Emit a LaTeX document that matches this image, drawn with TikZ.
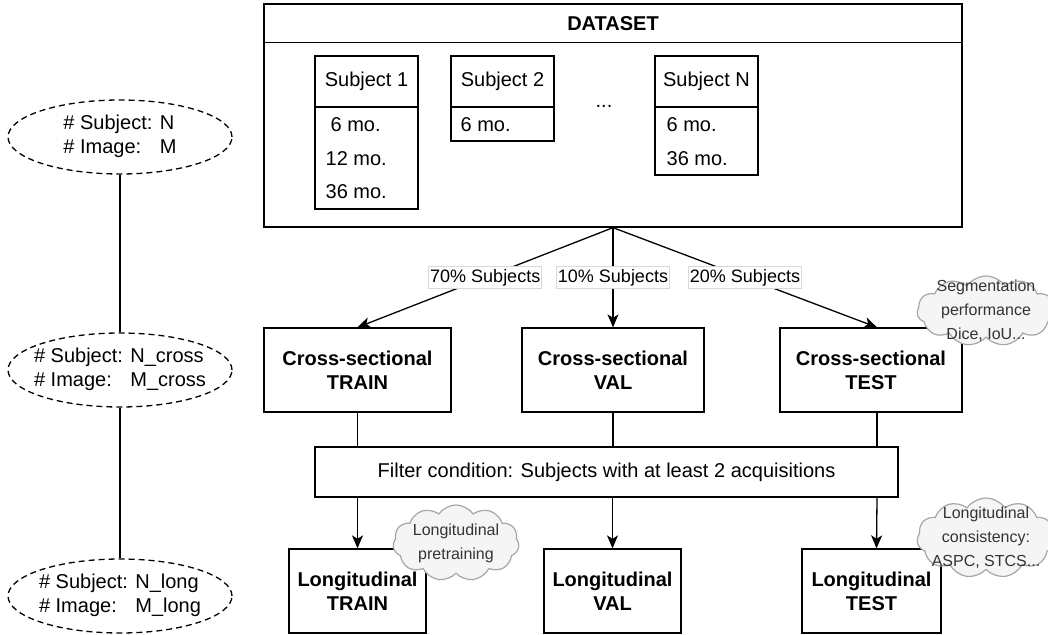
\documentclass[tikz,border=0pt]{standalone}
\usepackage{fontspec}
\setmainfont{Liberation Sans}
\usetikzlibrary{shapes.geometric,shapes.symbols,arrows.meta}
\definecolor{cloudfill}{HTML}{F5F5F5}
\definecolor{cloudline}{HTML}{A6A6A6}
\definecolor{cloudtext}{HTML}{333333}
\definecolor{lblline}{HTML}{D9D9D9}
\newcommand{\ellipsetext}[2]{\makebox[0pt][c]{\begin{tabular}{@{}l@{ }l@{}}\# Subject: & #1\\ \# Image: & #2\end{tabular}}}
\begin{document}
\begin{tikzpicture}[x=1pt,y=-1pt,line width=1.3pt,
  box/.style={draw,rectangle,inner sep=0pt,align=center,font=\fontsize{20}{24}\selectfont},
  boldbox/.style={box,font=\fontsize{20}{24}\selectfont\bfseries},
  txt/.style={inner sep=0pt,font=\fontsize{20}{24}\selectfont},
  lbl/.style={draw=lblline,fill=white,inner xsep=1.5pt,inner ysep=2.5pt,line width=0.8pt,font=\fontsize{18}{21}\selectfont},
  ell/.style={draw,ellipse,dash pattern=on 6pt off 4pt,minimum width=224pt,minimum height=74pt,inner sep=0pt,font=\fontsize{20}{24}\selectfont},
  cloudsty/.style={cloud,cloud puffs=11,cloud puff arc=110,cloud ignores aspect,draw=cloudline,fill=cloudfill,line width=1.2pt,inner sep=0pt},
  cloudtxt/.style={align=center,text=cloudtext,inner sep=0pt,font=\fontsize{16}{24}\selectfont},
  arr/.style={-{Stealth[length=13pt,width=11pt,inset=3.5pt]}}]
\useasboundingbox (0,0) rectangle (1048,634);

% left column
\node[ell] (e1) at (120,137) {\ellipsetext{N}{M}};
\node[ell] (e2) at (120,370) {\ellipsetext{N\_cross}{M\_cross}};
\node[ell] (e3) at (120,596) {\ellipsetext{N\_long}{M\_long}};
\draw (e1.south) -- (e2.north);
\draw (e2.south) -- (e3.north);

% dataset
\node[box,minimum width=698pt,minimum height=223pt] (ds) at (613,115.5) {};
\draw ([yshift=-39pt]ds.north west) -- ([yshift=-39pt]ds.north east);
\node[txt,font=\fontsize{20}{24}\selectfont\bfseries] (dstitle) at (613,24) {DATASET};

\node[box,minimum width=103pt,minimum height=51pt] (s1h) at (366.5,81.5) {Subject 1};
\node[box,minimum width=103pt,minimum height=102pt] (s1b) at (366.5,158) {};
\node[txt,anchor=west] (s1r1) at (330,125) {6 mo.};
\node[txt,anchor=west] (s1r2) at (325,159) {12 mo.};
\node[txt,anchor=west] (s1r3) at (325,192) {36 mo.};

\node[box,minimum width=103pt,minimum height=51pt] (s2h) at (502.5,81.5) {Subject 2};
\node[box,minimum width=103pt,minimum height=34pt] (s2b) at (502.5,124) {};
\node[txt,anchor=west] (s2r1) at (460,125) {6 mo.};

\node[txt] (dots) at (604,106) {...};

\node[box,minimum width=103pt,minimum height=51pt] (snh) at (706.5,81.5) {Subject N};
\node[box,minimum width=103pt,minimum height=68pt] (snb) at (706.5,141) {};
\node[txt,anchor=west] (snr1) at (666,125) {6 mo.};
\node[txt,anchor=west] (snr2) at (666,159) {36 mo.};

% cross-sectional
\node[boldbox,minimum width=187pt,minimum height=84pt] (ctrain) at (357.5,370) {Cross-sectional\\TRAIN};
\node[boldbox,minimum width=182pt,minimum height=84pt] (cval) at (613,370) {Cross-sectional\\VAL};
\node[boldbox,minimum width=182pt,minimum height=84pt] (ctest) at (871,370) {Cross-sectional\\TEST};

\draw[arr] (ds.south) -- node[lbl,pos=0.5] (l70) {70\% Subjects} (ctrain.north);
\draw[arr] (ds.south) -- node[lbl,pos=0.5] (l10) {10\% Subjects} (cval.north);
\draw[arr] (ds.south) -- node[lbl,pos=0.5] (l20) {20\% Subjects} ([xshift=6pt]ctest.north);

% filter
\node[box,minimum width=583pt,minimum height=50pt] (filter) at (606.5,472) {Filter condition: Subjects with at least 2 acquisitions};
\draw (ctrain.south) -- (ctrain.south |- filter.north);
\draw (cval.south) -- (cval.south |- filter.north);
\draw ([xshift=6pt]ctest.south) -- ([xshift=6pt]ctest.south |- filter.north);

% longitudinal
\node[boldbox,minimum width=137pt,minimum height=84pt] (ltrain) at (357.5,591) {Longitudinal\\TRAIN};
\node[boldbox,minimum width=137pt,minimum height=84pt] (lval) at (612.5,591) {Longitudinal\\VAL};
\node[boldbox,minimum width=139pt,minimum height=84pt] (ltest) at (871.5,591) {Longitudinal\\TEST};
\draw[arr] (ltrain.north |- filter.south) -- (ltrain.north);
\draw[arr] (lval.north |- filter.south) -- (lval.north);
\draw[arr] ([xshift=6pt]ctest.south |- filter.south) -- ([xshift=5pt]ltest.north);

% clouds
\node[cloudsty,minimum width=138pt,minimum height=70pt] (cl1) at (986,311) {};
\node[cloudtxt] (cl1t) at (cl1.center) {Segmentation\\performance\\Dice, IoU...};
\node[cloudsty,minimum width=138pt,minimum height=80pt] (cl2) at (986,538) {};
\node[cloudtxt] (cl2t) at (cl2.center) {Longitudinal\\consistency:\\ASPC, STCS...};
\node[cloudsty,minimum width=126pt,minimum height=76pt] (cl3) at (456,543) {};
\node[cloudtxt] (cl3t) at (cl3.center) {Longitudinal\\pretraining};
\end{tikzpicture}
\end{document}
